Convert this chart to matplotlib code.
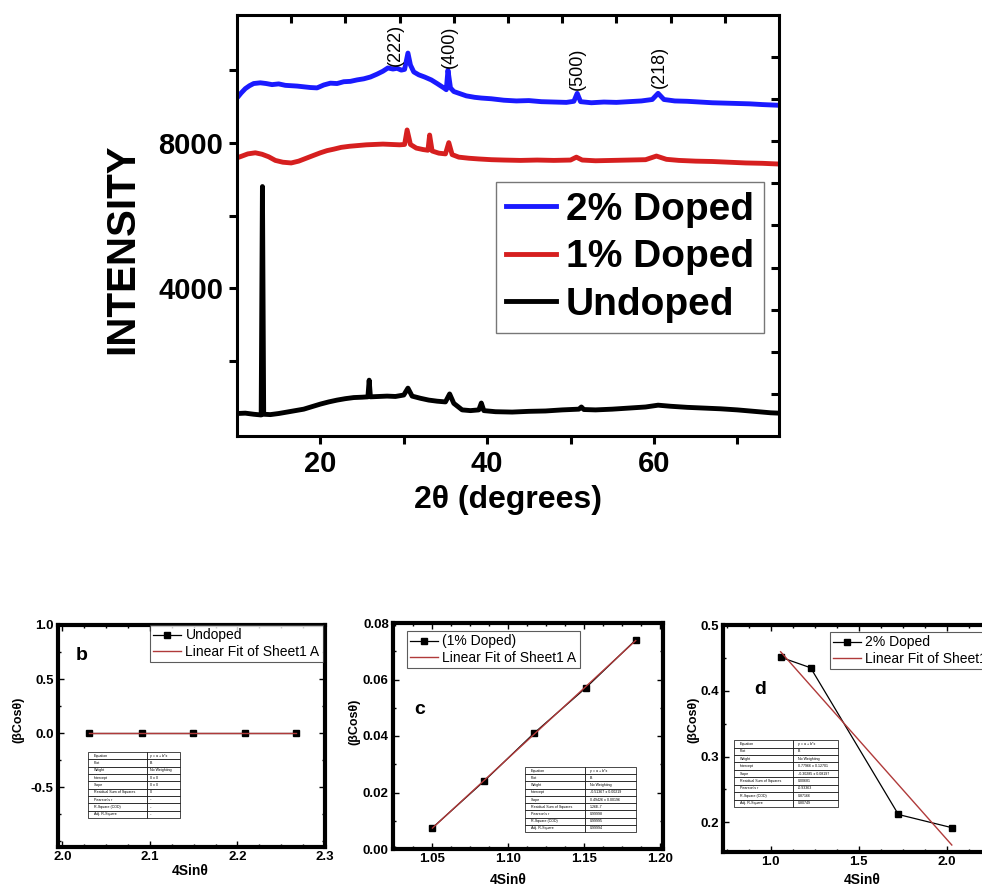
import numpy as np
import matplotlib
matplotlib.use('Agg')
import matplotlib.pyplot as plt
from matplotlib.ticker import FixedLocator, MultipleLocator, AutoMinorLocator, NullFormatter

plt.rcParams['font.family'] = ['Liberation Sans', 'DejaVu Sans']
plt.rcParams['font.weight'] = 'bold'

# ---- XRD patterns (2 theta, intensity) ----
tt_2 = [10.0, 10.5, 11.0, 11.5, 12.0, 12.8, 13.5, 14.2, 15.0, 15.8, 16.5, 17.2, 18.0, 18.8,
        19.6, 20.4, 21.2, 22.0, 22.8, 23.6, 24.4, 25.2, 26.0, 26.8, 27.5, 28.1, 28.7, 29.2,
        29.7, 30.1, 30.5, 30.8, 31.2, 31.8, 32.5, 33.3, 34.0, 34.8, 35.1, 35.3, 35.6, 36.0,
        36.5, 37.5, 38.5, 39.3, 40.5, 42.0, 43.5, 45.0, 46.5, 48.0, 49.5, 50.4, 50.8, 51.2,
        52.5, 54.0, 55.5, 57.0, 58.5, 59.8, 60.5, 61.2, 62.5, 64.0, 65.5, 67.0, 68.5, 70.0,
        71.5, 73.0, 75.0]
int_2 = [9240, 9380, 9500, 9580, 9640, 9660, 9640, 9610, 9630, 9590, 9580, 9570, 9550, 9530,
         9520, 9600, 9650, 9640, 9690, 9700, 9740, 9770, 9820, 9900, 9980, 10070, 10040, 10060,
         10010, 10030, 10480, 10150, 9960, 9880, 9820, 9740, 9640, 9520, 9470, 10010, 9520, 9420,
         9380, 9300, 9260, 9240, 9220, 9180, 9160, 9170, 9140, 9130, 9120, 9150, 9370, 9140,
         9110, 9130, 9120, 9140, 9160, 9200, 9370, 9200, 9160, 9150, 9130, 9110, 9100, 9090,
         9080, 9060, 9040]

tt_1 = [10.0, 10.6, 11.3, 12.2, 13.0, 13.8, 14.6, 15.5, 16.5, 17.4, 18.3, 19.2, 20.0, 20.8,
        21.6, 22.5, 23.5, 24.5, 25.5, 26.5, 27.5, 28.5, 29.5, 30.1, 30.4, 30.8, 31.5, 32.3,
        32.9, 33.1, 33.4, 34.2, 35.0, 35.4, 35.8, 36.6, 37.8, 39.0, 40.5, 42.0, 44.0, 46.0,
        48.0, 50.0, 50.7, 51.4, 53.0, 55.0, 57.0, 59.0, 60.3, 61.5, 63.0, 65.0, 67.0, 69.0,
        71.0, 73.0, 75.0]
int_1 = [7590, 7640, 7700, 7730, 7690, 7620, 7520, 7470, 7450, 7500, 7580, 7660, 7730, 7790,
         7830, 7880, 7910, 7930, 7950, 7960, 7970, 7960, 7950, 7960, 8360, 7960, 7860, 7820,
         7800, 8220, 7780, 7720, 7700, 8010, 7680, 7610, 7580, 7560, 7540, 7530, 7520, 7530,
         7520, 7530, 7610, 7530, 7510, 7520, 7530, 7540, 7640, 7550, 7520, 7500, 7490, 7470,
         7450, 7440, 7420]

tt_0 = [10.0, 11.0, 12.0, 12.9, 13.05, 13.2, 14.0, 15.0, 16.0, 17.0, 18.0, 19.0, 20.0, 21.0,
        22.0, 23.0, 24.0, 25.0, 25.7, 25.85, 26.0, 27.0, 28.0, 29.0, 30.0, 30.5, 31.0, 32.0,
        33.0, 34.0, 35.0, 35.5, 36.0, 37.0, 38.0, 39.0, 39.3, 39.6, 41.0, 43.0, 45.0, 47.0,
        49.0, 51.0, 51.3, 51.6, 53.0, 55.0, 57.0, 59.0, 60.5, 62.0, 64.0, 66.0, 68.0, 70.0,
        72.0, 74.0, 75.0]
int_0 = [540, 550, 520, 500, 6800, 520, 510, 540, 580, 620, 660, 730, 800, 860,
         910, 950, 980, 990, 1000, 1460, 1000, 1010, 1020, 1010, 1050, 1240, 1020, 960,
         910, 880, 860, 1080, 820, 640, 620, 640, 830, 620, 590, 580, 600, 610,
         640, 660, 720, 650, 640, 660, 690, 720, 770, 740, 710, 690, 670, 640,
         600, 560, 550]

peak_labels = ['(222)', '(400)', '(500)', '(218)']
peak_pos = [29.0, 35.5, 50.8, 60.6]
peak_lab_y = [10700, 10650, 10040, 10110]

# ---- Williamson-Hall data (4 sin theta, beta cos theta) ----
b_x = [2.030, 2.091, 2.149, 2.209, 2.267]
b_y = [0.0, 0.0, 0.0, 0.0, 0.0]
c_x = [1.050, 1.084, 1.117, 1.151, 1.184]
c_y = [0.0075, 0.024, 0.041, 0.057, 0.074]
d_x = [1.057, 1.227, 1.725, 2.028]
d_y = [0.451, 0.435, 0.212, 0.192]

b_yticks = [-0.5, 0.0, 0.5, 1.0]
c_yticks = [0.0, 0.02, 0.04, 0.06, 0.08]
d_yticks = [0.2, 0.3, 0.4, 0.5]

table_rows = ['Equation', 'Plot', 'Weight', 'Intercept', 'Slope',
              'Residual Sum of Squares', "Pearson's r", 'R-Square (COD)', 'Adj. R-Square']
b_vals = ['y = a + b*x', 'B', 'No Weighting', '0 ± 0', '0 ± 0', '0', '--', '--', '--']
c_vals = ['y = a + b*x', 'B', 'No Weighting', '-0.51367 ± 0.00219', '0.49426 ± 0.00196',
          '1.26E-7', '0.99998', '0.99995', '0.99994']
d_vals = ['y = a + b*x', 'B', 'No Weighting', '0.77966 ± 0.12701', '-0.30285 ± 0.08197',
          '0.00681', '-0.93363', '0.87166', '0.80749']

W, H = 982, 890


def box(l, t, r, b):
    # pixel box -> figure fraction rect
    return [l / W, 1 - b / H, (r - l) / W, (b - t) / H]


fig = plt.figure(figsize=(9.82, 8.9), dpi=100)

# ================= top XRD panel =================
ax = fig.add_axes(box(237, 15, 779, 436))
ax.plot(tt_2, int_2, color='#1a1aff', lw=3.5, label='2% Doped')
ax.plot(tt_1, int_1, color='#d61f1f', lw=3.5, label='1% Doped')
ax.plot(tt_0, int_0, color='black', lw=3.5, label='Undoped')
ax.set_xlim(10, 75)
ax.set_ylim(-80, 11530)
for s in ax.spines.values():
    s.set_linewidth(2.2)

ax.xaxis.set_major_locator(FixedLocator([20, 40, 60]))
ax.xaxis.set_minor_locator(FixedLocator([30, 50, 70]))
ax.yaxis.set_major_locator(FixedLocator([4000, 8000]))
ax.yaxis.set_minor_locator(FixedLocator([2000, 6000, 10000]))
ax.tick_params(which='both', direction='out', length=6, width=2.2, labelsize=21,
               top=False, right=False, pad=4)

for lab, xp, yp in zip(peak_labels, peak_pos, peak_lab_y):
    ax.text(xp, yp, lab, rotation=90, ha='center', va='center', fontsize=13,
            fontweight='normal')

leg = ax.legend(loc='upper left', bbox_to_anchor=(496 / W, 1 - 182 / H),
                bbox_transform=fig.transFigure, fontsize=28, frameon=True,
                fancybox=False, handlelength=1.3, handletextpad=0.25,
                labelspacing=0.3, borderpad=0.25, borderaxespad=0)
leg.get_frame().set_edgecolor('#555555')
leg.get_frame().set_linewidth(1.0)

# top / right decorative ticks (Origin style)
axt = ax.twiny()
axt.set_xlim(0, 10)
axt.xaxis.set_major_locator(FixedLocator(range(1, 10)))
axt.xaxis.set_major_formatter(NullFormatter())
axt.tick_params(axis='x', direction='in', length=6, width=2.2)
axr = ax.twinx()
axr.set_ylim(0, 10)
axr.yaxis.set_major_locator(FixedLocator(range(1, 10)))
axr.yaxis.set_major_formatter(NullFormatter())
axr.tick_params(axis='y', direction='in', length=6, width=2.2)

fig.text(122 / W, 1 - 249 / H, 'INTENSITY', rotation=90, ha='center', va='center',
         fontsize=29, fontweight='bold')
fig.text(508 / W, 1 - 500 / H, '2θ (degrees)', ha='center', va='center',
         fontsize=23, fontweight='bold')


# ================= bottom Williamson-Hall panels =================
def wh_panel(rect, xs, ys, label, xlim, ylim, xmaj, yticks, yfmt, leg_px, tag, tag_px,
             tbl_box, tbl_vals, col_frac, ylab_px, xlab_px):
    a = fig.add_axes(rect)
    a.plot(xs, ys, '-s', color='black', lw=0.9, ms=4.5, label=label)
    k, c0 = np.polyfit(xs, ys, 1)
    fx = np.array([min(xs), max(xs)])
    a.plot(fx, k * fx + c0, color='#b03a3a', lw=1.0, label='Linear Fit of Sheet1 A')
    a.set_xlim(*xlim)
    a.set_ylim(*ylim)
    a.xaxis.set_major_locator(MultipleLocator(xmaj))
    a.yaxis.set_major_locator(FixedLocator(yticks))
    a.xaxis.set_minor_locator(AutoMinorLocator(4))
    a.yaxis.set_minor_locator(AutoMinorLocator(2))
    a.yaxis.set_major_formatter(plt.FormatStrFormatter(yfmt))
    for s in a.spines.values():
        s.set_linewidth(3.0)
    a.tick_params(which='both', direction='in', top=True, right=True, labelsize=9.5,
                  width=1, pad=3)
    a.tick_params(which='major', length=4)
    a.tick_params(which='minor', length=2.5)
    lg = a.legend(loc='upper left', bbox_to_anchor=(leg_px[0] / W, 1 - leg_px[1] / H),
                  bbox_transform=fig.transFigure, frameon=True,
                  fancybox=False, handlelength=2.0, handletextpad=0.3,
                  labelspacing=0.15, borderpad=0.25, borderaxespad=0,
                  prop={'weight': 'normal', 'size': 10})
    lg.get_frame().set_edgecolor('#333333')
    lg.get_frame().set_linewidth(0.8)
    fig.text(tag_px[0] / W, 1 - tag_px[1] / H, tag, ha='center', va='center',
             fontsize=14, fontweight='bold')
    cells = [[r, v] for r, v in zip(table_rows, tbl_vals)]
    tb = a.table(cellText=cells, colWidths=[col_frac, 1 - col_frac], bbox=tbl_box,
                 cellLoc='left')
    tb.auto_set_font_size(False)
    tb.set_fontsize(2.6)
    for cell in tb.get_celld().values():
        cell.set_linewidth(0.5)
        cell.get_text().set_fontweight('normal')
    fig.text(ylab_px[0] / W, 1 - ylab_px[1] / H, '(βCosθ)', rotation=90, ha='center',
             va='center', fontsize=9, fontweight='bold')
    fig.text(xlab_px[0] / W, 1 - xlab_px[1] / H, '4Sinθ', ha='center', va='center',
             fontsize=10, fontweight='bold')
    return a


wh_panel(box(58, 625, 325, 847), b_x, b_y, 'Undoped', (1.995, 2.3), (-1.055, 1.0),
         0.1, b_yticks, '%.1f', (150, 625), 'b', (82, 656),
         [0.112, 0.131, 0.345, 0.297], b_vals, 0.64, (18, 720), (190, 871))

wh_panel(box(393, 623, 663, 849), c_x, c_y, '(1% Doped)', (1.024, 1.202), (0.0, 0.08),
         0.05, c_yticks, '%.2f', (407, 631), 'c', (420, 710),
         [0.489, 0.075, 0.411, 0.288], c_vals, 0.54, (354, 722), (508, 880))

wh_panel(box(723, 625, 1035, 852), d_x, d_y, '2% Doped', (0.73, 2.5), (0.155, 0.5),
         0.5, d_yticks, '%.1f', (830, 632), 'd', (760, 690),
         [0.035, 0.198, 0.333, 0.295], d_vals, 0.57, (693, 720), (862, 880))

fig.savefig('out.png', dpi=100)
